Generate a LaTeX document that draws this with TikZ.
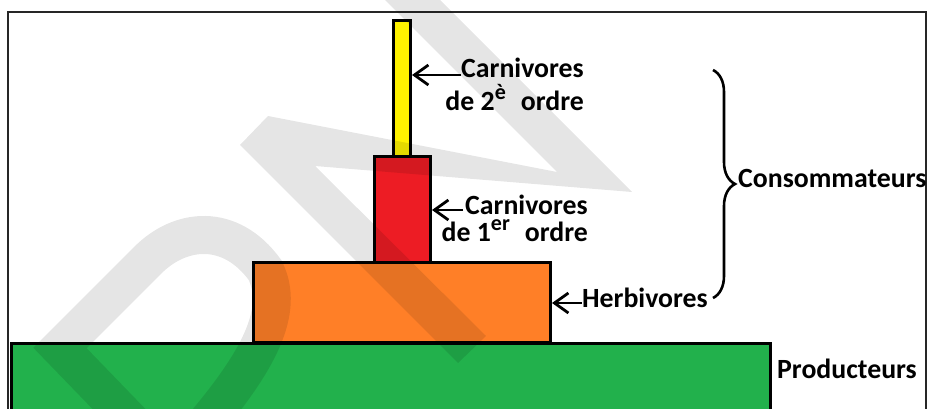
\documentclass[tikz,border=0pt]{standalone}
\usepackage{fontspec}
\setmainfont{Carlito}
\usetikzlibrary{arrows.meta,decorations.pathreplacing}
\definecolor{pyellow}{HTML}{FFF200}
\definecolor{pred}{HTML}{ED1C24}
\definecolor{porange}{HTML}{FF7F27}
\definecolor{pgreen}{HTML}{22B14C}
\newcommand\expo[1]{\raisebox{11pt}{\fontsize{22pt}{22pt}\selectfont #1}\hspace{15pt}}
\begin{document}
\begin{tikzpicture}[x=1pt, y=-1pt,
    level/.style={draw, line width=3pt, inner sep=0pt, outer sep=1.5pt},
    lbl/.style={font=\bfseries\fontsize{27.8pt}{32pt}\selectfont, inner sep=0pt},
    arr/.style={line width=2.8pt, -{Straight Barb[length=14pt,width=20pt]}},
    wm/.style={black, opacity=0.1}]
  \useasboundingbox (0,0) rectangle (930,409);
  \clip (0,0) rectangle (930,409);
  \fill[white] (0,0) rectangle (930,409);
  % frame
  \draw[line width=2.5pt, black!85] (8,430) -- (8,12) -- (926,12) -- (926,430);
  % pyramid levels
  \node[level, fill=pyellow, minimum width=17pt, minimum height=137pt] (yellow) at (402,89) {};
  \node[level, fill=pred, minimum width=56pt, minimum height=105.5pt] (red) at (402.5,209.25) {};
  \node[level, fill=porange, minimum width=297pt, minimum height=80pt] (orange) at (402,302.5) {};
  \node[level, fill=pgreen, minimum width=759pt, minimum height=96.5pt] (green) at (391,391.75) {};
  % watermark
  \draw[wm, line width=38pt, line join=miter] (178,470) -- (60,348) -- (148,260)
       .. controls (180,228) and (230,222) .. (265,270)
       .. controls (285,310) and (260,360) .. (200,430);
  \fill[wm] (458,363) -- (486,336) -- (315,166) -- (632,192) -- (400,-40)
       -- (345,-40) -- (557,172) -- (268,116) -- (240,145) -- cycle;
  % labels
  \node[lbl, anchor=base east, align=right] (carn2) at (584,111)
       {Carnivores\\[1pt]de 2\expo{è}ordre};
  \node[lbl, anchor=base east, align=right] (carn1) at (588,241)
       {Carnivores\\[-5pt]de 1\expo{er}ordre};
  \node[lbl, anchor=base east] (herb) at (708,307) {Herbivores};
  \node[lbl, anchor=base west] (cons) at (738,188) {Consommateurs};
  \node[lbl, anchor=base west] (prod) at (777,378) {Producteurs};
  \coordinate (a2) at ([xshift=-123pt, yshift=36pt]carn2.base east);
  \coordinate (a1) at ([xshift=-125pt, yshift=31pt]carn1.base east);
  \coordinate (ah) at ([yshift=4pt]herb.base west);
  \draw[arr] (a2) -- (a2 -| yellow.east);
  \draw[arr] (a1) -- (a1 -| red.east);
  \draw[arr] (ah) -- (ah -| orange.east);
  % brace
  \coordinate (bt) at (713,70);
  \coordinate (bb) at (713,298);
  \draw[line width=2.6pt, decorate, decoration={brace, amplitude=22pt}] (bt) -- (bb);
\end{tikzpicture}
\end{document}
